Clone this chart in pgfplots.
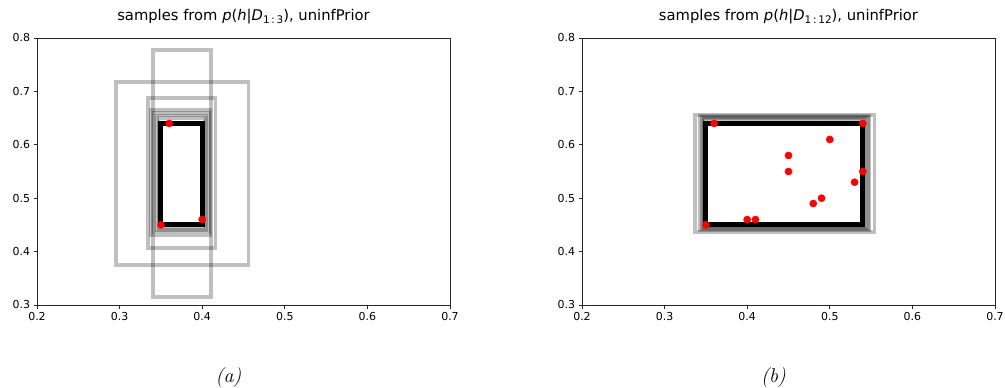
\documentclass[border=0pt]{standalone}
\usepackage{fontspec}
\usepackage{pgfplots}
\pgfplotsset{compat=1.18}
\newfontfamily\dejavu{DejaVu Sans}

% observed data (first 3 and all 12 points)
\pgfplotstableread{
x y
0.36 0.64
0.35 0.45
0.40 0.46
}\dataA
\pgfplotstableread{
x y
0.36 0.64
0.54 0.64
0.50 0.61
0.45 0.58
0.45 0.55
0.54 0.55
0.53 0.53
0.49 0.50
0.48 0.49
0.40 0.46
0.41 0.46
0.35 0.45
}\dataB

\pgfplotsset{
  hypo/.style={
    scale only axis, width=413bp, height=267bp,
    xmin=0.2, xmax=0.7, ymin=0.3, ymax=0.8,
    xtick={0.2,0.3,0.4,0.5,0.6,0.7},
    ytick={0.3,0.4,0.5,0.6,0.7,0.8},
    tick align=outside, major tick length=3.5bp,
    xtick pos=bottom, ytick pos=left,
    axis line style={line width=0.8bp, black!85},
    every tick/.style={black!85, line width=0.8bp},
    tick label style={font=\dejavu\fontsize{11}{13}\selectfont},
    /pgf/number format/assume math mode=true,
    /pgf/number format/fixed, /pgf/number format/precision=1,
    /pgf/number format/fixed zerofill,
    title style={font=\dejavu\fontsize{14.8}{17}\selectfont, at={(0.5,1)}, anchor=base, yshift=12bp},
    clip=false,
  },
  sample/.style={black, draw opacity=0.25, line width=3.8bp, line join=miter, mark=none},
  best/.style={black, line width=5bp, line join=miter, mark=none},
  obs/.style={only marks, mark=*, mark size=3.6bp, red, mark options={draw=red, fill=red}},
}
\tikzset{subcap/.style={font=\fontsize{20}{24}\selectfont\itshape, anchor=base}}

\begin{document}
\begin{tikzpicture}
\path[use as bounding box] (0,0) rectangle (1005bp,388bp);

% posterior samples after 3 observations
\begin{axis}[hypo, at={(37bp,83bp)}, anchor=south west,
  title={samples from {\itshape p}({\itshape h}|{\itshape D}\raisebox{-3bp}{\fontsize{10.5}{12}\selectfont 1\,:\,3}), uninfPrior}]
\addplot[sample] coordinates {(0.340,0.315) (0.411,0.315) (0.411,0.778) (0.340,0.778)} -- cycle;
\addplot[sample] coordinates {(0.296,0.375) (0.456,0.375) (0.456,0.718) (0.296,0.718)} -- cycle;
\addplot[sample] coordinates {(0.334,0.407) (0.416,0.407) (0.416,0.688) (0.334,0.688)} -- cycle;
\addplot[sample] coordinates {(0.338,0.430) (0.410,0.430) (0.410,0.665) (0.338,0.665)} -- cycle;
\addplot[sample] coordinates {(0.342,0.437) (0.408,0.437) (0.408,0.660) (0.342,0.660)} -- cycle;
\addplot[sample] coordinates {(0.345,0.440) (0.405,0.440) (0.405,0.655) (0.345,0.655)} -- cycle;
\addplot[sample] coordinates {(0.347,0.444) (0.403,0.444) (0.403,0.650) (0.347,0.650)} -- cycle;
\addplot[best] coordinates {(0.35,0.45) (0.40,0.45) (0.40,0.64) (0.35,0.64)} -- cycle;
\addplot[obs] table[x=x, y=y] {\dataA};
\node[subcap] at (rel axis cs:0.5,0) [xshift=-15bp, yshift=-77bp] {(a)};
\end{axis}

% posterior samples after 12 observations
\begin{axis}[hypo, at={(582bp,83bp)}, anchor=south west,
  title={samples from {\itshape p}({\itshape h}|{\itshape D}\raisebox{-3bp}{\fontsize{10.5}{12}\selectfont 1\,:\,12}), uninfPrior}]
\addplot[sample] coordinates {(0.337,0.437) (0.554,0.437) (0.554,0.656) (0.337,0.656)} -- cycle;
\addplot[sample] coordinates {(0.343,0.440) (0.548,0.440) (0.548,0.654) (0.343,0.654)} -- cycle;
\addplot[sample] coordinates {(0.345,0.442) (0.546,0.442) (0.546,0.652) (0.345,0.652)} -- cycle;
\addplot[sample] coordinates {(0.347,0.444) (0.544,0.444) (0.544,0.650) (0.347,0.650)} -- cycle;
\addplot[sample] coordinates {(0.348,0.447) (0.542,0.447) (0.542,0.647) (0.348,0.647)} -- cycle;
\addplot[best] coordinates {(0.35,0.45) (0.54,0.45) (0.54,0.64) (0.35,0.64)} -- cycle;
\addplot[obs] table[x=x, y=y] {\dataB};
\node[subcap] at (rel axis cs:0.5,0) [xshift=-15bp, yshift=-77bp] {(b)};
\end{axis}
\end{tikzpicture}
\end{document}
